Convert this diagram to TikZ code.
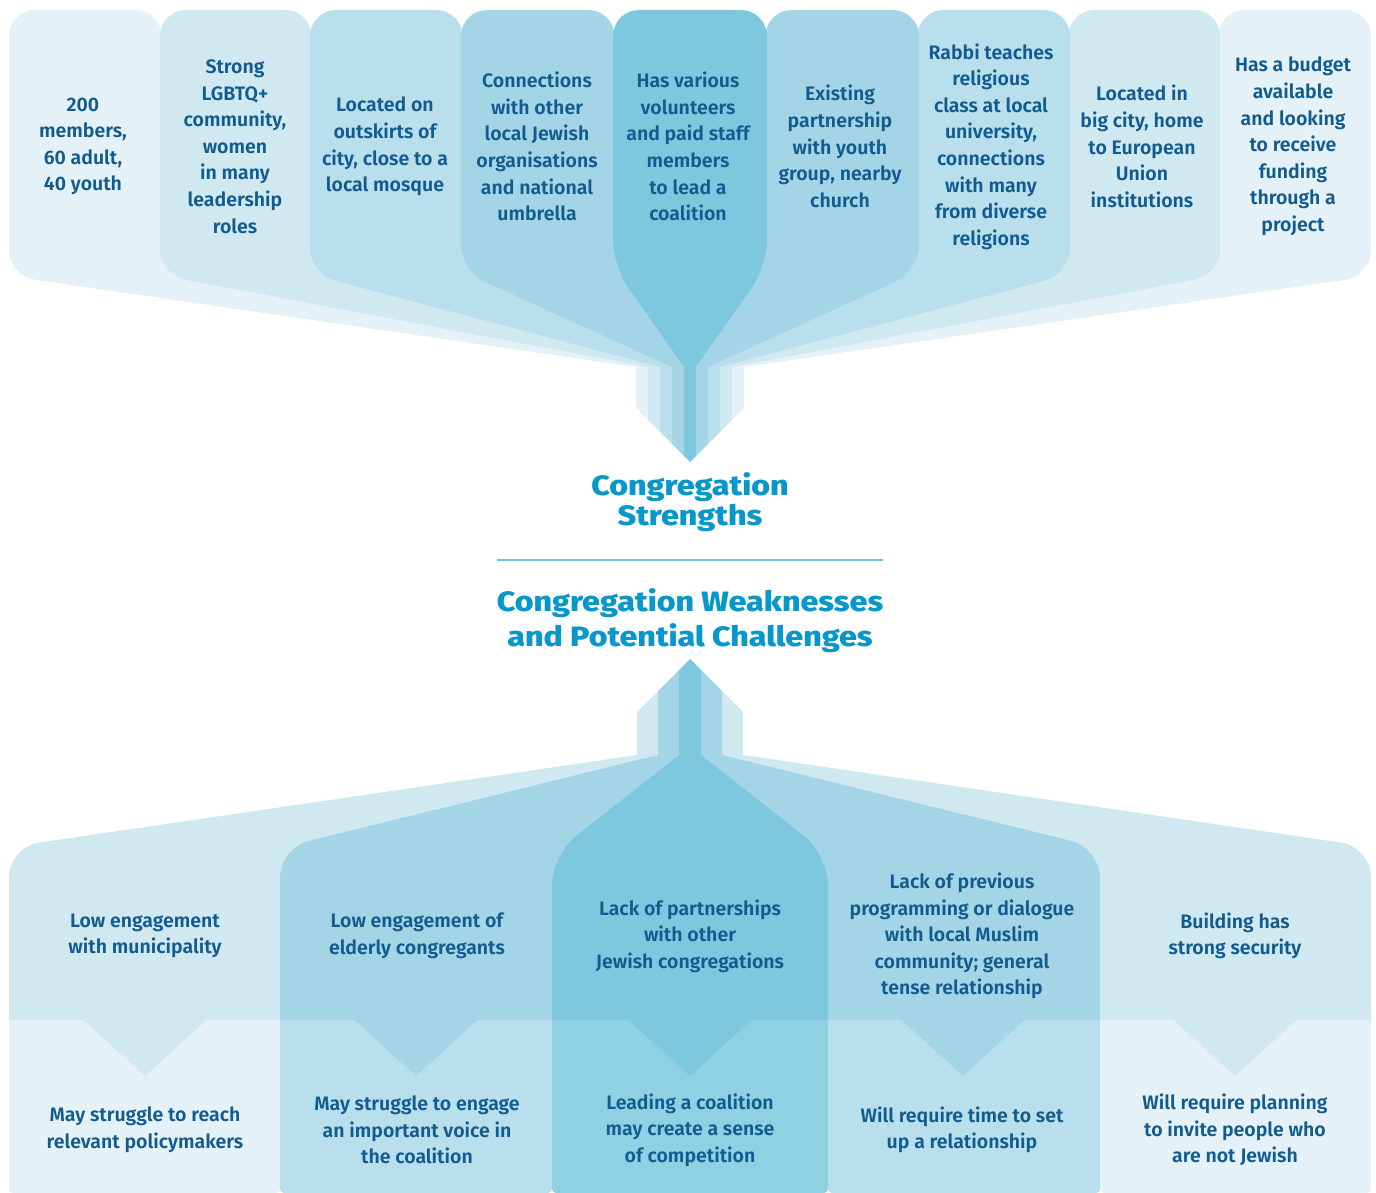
\documentclass[tikz,border=0pt]{standalone}
\usepackage{fontspec}
\setmainfont{Fira Sans}
\newfontfamily\medf{Fira Sans SemiBold}
\newfontfamily\ttlf{Fira Sans ExtraBold}[FakeStretch=1.15]
\usetikzlibrary{calc}
\definecolor{cA}{HTML}{E4F2F7}
\definecolor{cB}{HTML}{D0E8F0}
\definecolor{cC}{HTML}{BADFEC}
\definecolor{cD}{HTML}{A4D5E6}
\definecolor{cE}{HTML}{7DC8DF}
\definecolor{cF}{HTML}{90D0E3}
\definecolor{txtc}{HTML}{125B8F}
\definecolor{ttlc}{HTML}{0797CA}
\definecolor{rulec}{HTML}{6CC5DB}
\newcommand\crn[3]{.. controls ($(#1)!0.55!(#2)$) and ($(#3)!0.55!(#2)$) .. (#3)}
\begin{document}
\begin{tikzpicture}[x=1pt,y=-1pt,
  txt/.style={font=\medf\fontsize{19.5}{26.6}\selectfont, text=txtc, align=center, inner sep=0pt},
  ttl/.style={font=\ttlf\fontsize{28}{#1}\selectfont, text=ttlc, align=center, inner sep=0pt},
  ttl/.default=30]
\useasboundingbox (0,0) rectangle (1376,1193);
% ---------------- top funnel ----------------
\begin{scope}
\clip (0,0) -- (1376,0) -- (1376,367) -- (744,367) -- (744,408) -- (690,462) -- (636,408) -- (636,367) -- (0,367) -- cycle;
\fill[cA] (9,36) \crn{9,36}{9,10}{35,10} -- (135.5,10) \crn{135.5,10}{161.5,10}{161.5,36} -- (161.5,240) -- (192,279) -- (648.5,367) -- (648.5,480) -- (636,480) -- (636,367) -- (34.73,279.73) \crn{34.73,279.73}{9,276}{9,250} -- cycle;
\fill[cA] (1371,36) \crn{1371,36}{1371,10}{1345,10} -- (1244.5,10) \crn{1244.5,10}{1218.5,10}{1218.5,36} -- (1218.5,240) -- (1188,279) -- (731.5,367) -- (731.5,480) -- (744,480) -- (744,367) -- (1345.27,279.73) \crn{1345.27,279.73}{1371,276}{1371,250} -- cycle;
\fill[cB] (160,36) \crn{160,36}{160,10}{186,10} -- (285.5,10) \crn{285.5,10}{311.5,10}{311.5,36} -- (311.5,240) -- (342,280.5) -- (660.5,367) -- (660.5,480) -- (648,480) -- (648,367) -- (185.55,279.82) \crn{185.55,279.82}{160,275}{160,249} -- cycle;
\fill[cB] (1220,36) \crn{1220,36}{1220,10}{1194,10} -- (1094.5,10) \crn{1094.5,10}{1068.5,10}{1068.5,36} -- (1068.5,240) -- (1038,280.5) -- (719.5,367) -- (719.5,480) -- (732,480) -- (732,367) -- (1194.45,279.82) \crn{1194.45,279.82}{1220,275}{1220,249} -- cycle;
\fill[cC] (310,36) \crn{310,36}{310,10}{336,10} -- (436.5,10) \crn{436.5,10}{462.5,10}{462.5,36} -- (462.5,240) -- (493,283.6) -- (672.5,367) -- (672.5,480) -- (660,480) -- (660,367) -- (335.13,280.68) \crn{335.13,280.68}{310,274}{310,248} -- cycle;
\fill[cC] (1070,36) \crn{1070,36}{1070,10}{1044,10} -- (943.5,10) \crn{943.5,10}{917.5,10}{917.5,36} -- (917.5,240) -- (887,283.6) -- (707.5,367) -- (707.5,480) -- (720,480) -- (720,367) -- (1044.87,280.68) \crn{1044.87,280.68}{1070,274}{1070,248} -- cycle;
\fill[cD] (461,36) \crn{461,36}{461,10}{487,10} -- (588.5,10) \crn{588.5,10}{614.5,10}{614.5,36} -- (614.5,240) -- (635,293) -- (684.5,367) -- (684.5,480) -- (672,480) -- (672,367) -- (484.67,281.77) \crn{484.67,281.77}{461,271}{461,245} -- cycle;
\fill[cD] (919,36) \crn{919,36}{919,10}{893,10} -- (791.5,10) \crn{791.5,10}{765.5,10}{765.5,36} -- (765.5,240) -- (745,293) -- (695.5,367) -- (695.5,480) -- (708,480) -- (708,367) -- (895.33,281.77) \crn{895.33,281.77}{919,271}{919,245} -- cycle;
\fill[cE] (613,36) \crn{613,36}{613,10}{639,10} -- (741,10) \crn{741,10}{767,10}{767,36} -- (767,240) \crn{767,240}{767,266}{752.05,287.27} -- (696,367) -- (696,480) -- (684,480) -- (684,367) -- (627.95,287.27) \crn{627.95,287.27}{613,266}{613,240} -- cycle;
\end{scope}
% ---------------- bottom funnel ----------------
\begin{scope}
\clip (0,1193) -- (1376,1193) -- (1376,755) -- (743,755) -- (743,712) -- (690,659) -- (637,712) -- (637,755) -- (0,755) -- cycle;
\fill[cB] (637,640) -- (658.5,640) -- (658.5,755) -- (316,841) -- (316,1021) -- (9,1021) -- (9,877) \crn{9,877}{9,847}{38.68,842.65} -- (637,755) -- cycle;
\fill[cB] (743,640) -- (721.5,640) -- (721.5,755) -- (1064,841) -- (1064,1021) -- (1371,1021) -- (1371,877) \crn{1371,877}{1371,847}{1341.32,842.65} -- (743,755) -- cycle;
\fill[cD] (658,640) -- (679.5,640) -- (679.5,755) -- (588,829) -- (588,1021) -- (280,1021) -- (280,878) \crn{280,878}{280,848}{309.13,840.83} -- (658,755) -- cycle;
\fill[cD] (722,640) -- (700.5,640) -- (700.5,755) -- (792,829) -- (792,1021) -- (1100,1021) -- (1100,878) \crn{1100,878}{1100,848}{1070.87,840.83} -- (722,755) -- cycle;
\fill[cE] (679,640) -- (701,640) -- (701,755) -- (804.43,836.44) \crn{804.43,836.44}{828,855}{828,885} -- (828,1021) -- (552,1021) -- (552,885) \crn{552,885}{552,855}{575.57,836.44} -- (679,755) -- cycle;
\end{scope}
% lower boxes
\foreach \xl/\xr/\col in {9/280/cA, 280/552/cC, 552/828/cF, 828/1100/cC, 1100/1371/cA}{
  \fill[\col] (\xl,1020) -- (\xr,1020) -- (\xr,1189) \crn{\xr,1189}{\xr,1193}{\xr-4,1193} -- (\xl+4,1193) \crn{\xl+4,1193}{\xl,1193}{\xl,1189} -- cycle;
}
% chevrons
\foreach \cx/\col in {145/cB, 416/cD, 690/cE, 963/cD, 1235/cB}{
  \fill[\col] (\cx-62,1019.5) -- (\cx+62,1019.5) -- (\cx,1076) -- cycle;
}
% divider
\coordinate (rl) at (497,560);
\coordinate (rr) at (883,560);
\draw[rulec, line width=2.5pt] (rl) -- (rr);
% titles
\node[ttl] (t1) at (690,502) {Congregation\\Strengths};
\node[ttl=35] (t2) at (690,621) {Congregation Weaknesses\\and Potential Challenges};
% top texts
\node[txt] (s1) at (83,146.5) {200\\members,\\60 adult,\\40 youth};
\node[txt] (s2) at (235,146.5) {Strong\\LGBTQ+\\community,\\women\\in many\\leadership\\roles};
\node[txt] (s3) at (385,146.5) {Located on\\outskirts of\\city, close to a\\local mosque};
\node[txt] (s4) at (537,146.5) {Connections\\with other\\local Jewish\\organisations\\and national\\umbrella};
\node[txt] (s5) at (688,146.5) {Has various\\volunteers\\and paid staff\\members\\to lead a\\coalition};
\node[txt] (s6) at (840,146.5) {Existing\\partnership\\with youth\\group, nearby\\church};
\node[txt] (s7) at (991,146.5) {Rabbi teaches\\religious\\class at local\\university,\\connections\\with many\\from diverse\\religions};
\node[txt] (s8) at (1142,146.5) {Located in\\big city, home\\to European\\Union\\institutions};
\node[txt] (s9) at (1293,146.5) {Has a budget\\available\\and looking\\to receive\\funding\\through a\\project};
% bottom upper texts
\node[txt] (w1) at (145,936) {Low engagement\\with municipality};
\node[txt] (w2) at (417,936) {Low engagement of\\elderly congregants};
\node[txt] (w3) at (690,936) {Lack of partnerships\\with other\\Jewish congregations};
\node[txt] (w4) at (962,936) {Lack of previous\\programming or dialogue\\with local Muslim\\community; general\\tense relationship};
\node[txt] (w5) at (1235,936) {Building has\\strong security};
% bottom lower texts
\node[txt] (c1) at (145,1130) {May struggle to reach\\relevant policymakers};
\node[txt] (c2) at (417,1130) {May struggle to engage\\an important voice in\\the coalition};
\node[txt] (c3) at (690,1130) {Leading a coalition\\may create a sense\\of competition};
\node[txt] (c4) at (962,1130) {Will require time to set\\up a relationship};
\node[txt] (c5) at (1235,1130) {Will require planning\\to invite people who\\are not Jewish};
\end{tikzpicture}
\end{document}
